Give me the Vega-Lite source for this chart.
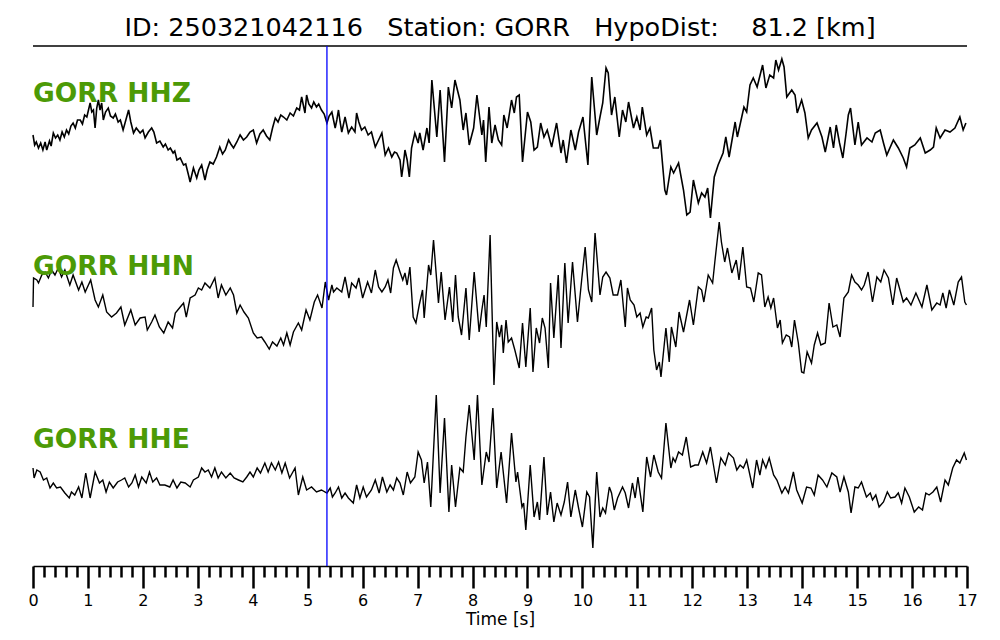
{
  "$schema": "https://vega.github.io/schema/vega-lite/v6.json",
  "autosize": {"type": "none"},
  "width": 934,
  "height": 520,
  "padding": {"left": 33, "top": 46, "right": 33, "bottom": 74},
  "config": {
    "font": "DejaVu Sans",
    "view": {"stroke": null},
    "axis": {"grid": false}
  },
  "title": {
    "text": "ID: 250321042116 \u00a0 Station: GORR \u00a0 HypoDist: \u00a0\u00a0 81.2 [km]",
    "font": "DejaVu Sans",
    "fontSize": 25.5,
    "fontWeight": "normal",
    "color": "black",
    "anchor": "middle",
    "baseline": "alphabetic",
    "offset": -16
  },
  "datasets": {
    "hhz": [
      {"t":0,"amp":5},{"t":0.03,"amp":-5},{"t":0.06,"amp":-2},{"t":0.1,"amp":-8},{"t":0.14,"amp":-3},{"t":0.18,"amp":-10},{"t":0.22,"amp":-2},{"t":0.25,"amp":-10},{"t":0.3,"amp":-1},{"t":0.33,"amp":-6},{"t":0.37,"amp":7},{"t":0.41,"amp":2},{"t":0.45,"amp":5},{"t":0.49,"amp":0},{"t":0.53,"amp":8},{"t":0.57,"amp":3},{"t":0.61,"amp":10},{"t":0.65,"amp":6},{"t":0.69,"amp":14},{"t":0.73,"amp":17},{"t":0.77,"amp":12},{"t":0.81,"amp":20},{"t":0.86,"amp":20},{"t":0.9,"amp":16},{"t":0.94,"amp":25},{"t":0.98,"amp":23},{"t":1.01,"amp":30},{"t":1.04,"amp":37},{"t":1.07,"amp":28},{"t":1.1,"amp":30},{"t":1.13,"amp":12},{"t":1.16,"amp":32},{"t":1.19,"amp":40},{"t":1.22,"amp":30},{"t":1.25,"amp":37},{"t":1.28,"amp":20},{"t":1.32,"amp":28},{"t":1.37,"amp":32},{"t":1.41,"amp":24},{"t":1.46,"amp":22},{"t":1.5,"amp":26},{"t":1.55,"amp":18},{"t":1.59,"amp":20},{"t":1.64,"amp":10},{"t":1.69,"amp":20},{"t":1.74,"amp":30},{"t":1.78,"amp":18},{"t":1.83,"amp":7},{"t":1.88,"amp":12},{"t":1.95,"amp":7},{"t":2.0,"amp":10},{"t":2.04,"amp":2},{"t":2.1,"amp":8},{"t":2.16,"amp":12},{"t":2.2,"amp":8},{"t":2.25,"amp":-3},{"t":2.31,"amp":-1},{"t":2.37,"amp":-7},{"t":2.41,"amp":-4},{"t":2.46,"amp":-10},{"t":2.5,"amp":-8},{"t":2.55,"amp":-13},{"t":2.58,"amp":-11},{"t":2.62,"amp":-20},{"t":2.68,"amp":-18},{"t":2.74,"amp":-25},{"t":2.78,"amp":-24},{"t":2.83,"amp":-35},{"t":2.86,"amp":-42},{"t":2.92,"amp":-28},{"t":2.98,"amp":-38},{"t":3.02,"amp":-30},{"t":3.07,"amp":-25},{"t":3.13,"amp":-40},{"t":3.17,"amp":-30},{"t":3.22,"amp":-22},{"t":3.28,"amp":-24},{"t":3.34,"amp":-17},{"t":3.37,"amp":-12},{"t":3.4,"amp":-7},{"t":3.45,"amp":-14},{"t":3.5,"amp":-10},{"t":3.56,"amp":0},{"t":3.6,"amp":-4},{"t":3.65,"amp":-8},{"t":3.71,"amp":-2},{"t":3.77,"amp":5},{"t":3.83,"amp":0},{"t":3.89,"amp":3},{"t":3.95,"amp":8},{"t":4.01,"amp":10},{"t":4.07,"amp":-3},{"t":4.13,"amp":6},{"t":4.19,"amp":10},{"t":4.25,"amp":4},{"t":4.31,"amp":0},{"t":4.36,"amp":12},{"t":4.41,"amp":22},{"t":4.46,"amp":18},{"t":4.51,"amp":25},{"t":4.56,"amp":23},{"t":4.62,"amp":20},{"t":4.68,"amp":27},{"t":4.74,"amp":24},{"t":4.8,"amp":32},{"t":4.85,"amp":30},{"t":4.89,"amp":43},{"t":4.95,"amp":27},{"t":4.98,"amp":45},{"t":5.02,"amp":36},{"t":5.07,"amp":32},{"t":5.11,"amp":38},{"t":5.16,"amp":33},{"t":5.2,"amp":36},{"t":5.25,"amp":30},{"t":5.3,"amp":26},{"t":5.35,"amp":17},{"t":5.39,"amp":24},{"t":5.44,"amp":28},{"t":5.5,"amp":12},{"t":5.53,"amp":20},{"t":5.56,"amp":30},{"t":5.59,"amp":18},{"t":5.62,"amp":8},{"t":5.68,"amp":23},{"t":5.74,"amp":7},{"t":5.8,"amp":13},{"t":5.86,"amp":8},{"t":5.89,"amp":27},{"t":5.93,"amp":18},{"t":5.98,"amp":10},{"t":6.04,"amp":13},{"t":6.1,"amp":5},{"t":6.16,"amp":8},{"t":6.23,"amp":-7},{"t":6.29,"amp":0},{"t":6.35,"amp":7},{"t":6.41,"amp":-15},{"t":6.47,"amp":-8},{"t":6.53,"amp":-17},{"t":6.58,"amp":-12},{"t":6.62,"amp":-13},{"t":6.68,"amp":-20},{"t":6.71,"amp":-37},{"t":6.74,"amp":-25},{"t":6.77,"amp":-10},{"t":6.81,"amp":-20},{"t":6.85,"amp":-37},{"t":6.89,"amp":-8},{"t":6.95,"amp":7},{"t":7.01,"amp":-3},{"t":7.04,"amp":7},{"t":7.1,"amp":-10},{"t":7.17,"amp":12},{"t":7.21,"amp":-3},{"t":7.26,"amp":60},{"t":7.35,"amp":3},{"t":7.41,"amp":50},{"t":7.49,"amp":-22},{"t":7.56,"amp":53},{"t":7.62,"amp":32},{"t":7.68,"amp":60},{"t":7.77,"amp":40},{"t":7.83,"amp":10},{"t":7.88,"amp":27},{"t":7.94,"amp":-5},{"t":8.02,"amp":12},{"t":8.08,"amp":45},{"t":8.17,"amp":5},{"t":8.2,"amp":20},{"t":8.24,"amp":-22},{"t":8.3,"amp":33},{"t":8.35,"amp":-3},{"t":8.41,"amp":15},{"t":8.47,"amp":0},{"t":8.53,"amp":-5},{"t":8.57,"amp":25},{"t":8.63,"amp":12},{"t":8.71,"amp":40},{"t":8.76,"amp":27},{"t":8.8,"amp":43},{"t":8.85,"amp":45},{"t":8.91,"amp":-22},{"t":9.0,"amp":28},{"t":9.06,"amp":18},{"t":9.12,"amp":-10},{"t":9.18,"amp":-7},{"t":9.24,"amp":17},{"t":9.3,"amp":3},{"t":9.36,"amp":10},{"t":9.44,"amp":-7},{"t":9.53,"amp":17},{"t":9.61,"amp":-13},{"t":9.65,"amp":0},{"t":9.71,"amp":-23},{"t":9.79,"amp":10},{"t":9.87,"amp":-10},{"t":9.93,"amp":8},{"t":10.01,"amp":23},{"t":10.1,"amp":-25},{"t":10.17,"amp":63},{"t":10.26,"amp":5},{"t":10.32,"amp":23},{"t":10.37,"amp":37},{"t":10.43,"amp":72},{"t":10.47,"amp":67},{"t":10.53,"amp":25},{"t":10.59,"amp":43},{"t":10.67,"amp":3},{"t":10.73,"amp":30},{"t":10.79,"amp":18},{"t":10.84,"amp":38},{"t":10.93,"amp":12},{"t":10.99,"amp":23},{"t":11.05,"amp":10},{"t":11.09,"amp":33},{"t":11.17,"amp":5},{"t":11.23,"amp":12},{"t":11.29,"amp":-8},{"t":11.38,"amp":-8},{"t":11.42,"amp":0},{"t":11.5,"amp":-50},{"t":11.53,"amp":-55},{"t":11.61,"amp":-27},{"t":11.66,"amp":-33},{"t":11.75,"amp":-23},{"t":11.84,"amp":-50},{"t":11.9,"amp":-75},{"t":11.96,"amp":-72},{"t":12.02,"amp":-40},{"t":12.11,"amp":-63},{"t":12.17,"amp":-53},{"t":12.23,"amp":-57},{"t":12.28,"amp":-48},{"t":12.33,"amp":-78},{"t":12.4,"amp":-37},{"t":12.47,"amp":-25},{"t":12.56,"amp":-13},{"t":12.61,"amp":3},{"t":12.67,"amp":-17},{"t":12.78,"amp":18},{"t":12.82,"amp":3},{"t":12.9,"amp":23},{"t":12.94,"amp":33},{"t":12.99,"amp":28},{"t":13.05,"amp":55},{"t":13.11,"amp":62},{"t":13.18,"amp":53},{"t":13.28,"amp":75},{"t":13.34,"amp":52},{"t":13.41,"amp":65},{"t":13.48,"amp":62},{"t":13.52,"amp":80},{"t":13.57,"amp":70},{"t":13.63,"amp":81},{"t":13.67,"amp":73},{"t":13.72,"amp":43},{"t":13.81,"amp":50},{"t":13.87,"amp":45},{"t":13.91,"amp":27},{"t":13.99,"amp":40},{"t":14.05,"amp":27},{"t":14.11,"amp":2},{"t":14.17,"amp":10},{"t":14.27,"amp":17},{"t":14.36,"amp":3},{"t":14.42,"amp":-12},{"t":14.51,"amp":13},{"t":14.57,"amp":-8},{"t":14.62,"amp":15},{"t":14.68,"amp":-3},{"t":14.74,"amp":-18},{"t":14.8,"amp":7},{"t":14.84,"amp":25},{"t":14.88,"amp":32},{"t":14.96,"amp":-5},{"t":15.02,"amp":18},{"t":15.08,"amp":-5},{"t":15.18,"amp":2},{"t":15.27,"amp":-2},{"t":15.33,"amp":7},{"t":15.42,"amp":10},{"t":15.48,"amp":-3},{"t":15.54,"amp":-15},{"t":15.66,"amp":0},{"t":15.75,"amp":-8},{"t":15.84,"amp":-18},{"t":15.9,"amp":-27},{"t":15.96,"amp":-8},{"t":16.05,"amp":-5},{"t":16.15,"amp":2},{"t":16.24,"amp":-13},{"t":16.33,"amp":-10},{"t":16.39,"amp":-7},{"t":16.44,"amp":12},{"t":16.51,"amp":2},{"t":16.6,"amp":10},{"t":16.69,"amp":8},{"t":16.78,"amp":12},{"t":16.87,"amp":23},{"t":16.93,"amp":10},{"t":16.98,"amp":17}
    ],
    "hhn": [
      {"t":0,"amp":-7},{"t":0.01,"amp":22},{"t":0.07,"amp":20},{"t":0.1,"amp":17},{"t":0.16,"amp":25},{"t":0.22,"amp":28},{"t":0.28,"amp":22},{"t":0.34,"amp":30},{"t":0.4,"amp":25},{"t":0.46,"amp":32},{"t":0.52,"amp":23},{"t":0.58,"amp":30},{"t":0.67,"amp":15},{"t":0.73,"amp":25},{"t":0.83,"amp":10},{"t":0.89,"amp":18},{"t":0.95,"amp":8},{"t":1.05,"amp":20},{"t":1.13,"amp":0},{"t":1.19,"amp":-7},{"t":1.27,"amp":5},{"t":1.34,"amp":-12},{"t":1.43,"amp":-17},{"t":1.52,"amp":-13},{"t":1.6,"amp":-7},{"t":1.67,"amp":-25},{"t":1.78,"amp":-10},{"t":1.86,"amp":-25},{"t":1.95,"amp":-18},{"t":2.04,"amp":-17},{"t":2.08,"amp":-30},{"t":2.16,"amp":-22},{"t":2.22,"amp":-15},{"t":2.3,"amp":-27},{"t":2.38,"amp":-33},{"t":2.46,"amp":-22},{"t":2.54,"amp":-28},{"t":2.59,"amp":-13},{"t":2.68,"amp":-7},{"t":2.74,"amp":-3},{"t":2.79,"amp":-17},{"t":2.86,"amp":2},{"t":2.95,"amp":5},{"t":3.01,"amp":12},{"t":3.07,"amp":10},{"t":3.13,"amp":17},{"t":3.22,"amp":12},{"t":3.31,"amp":22},{"t":3.37,"amp":2},{"t":3.43,"amp":15},{"t":3.51,"amp":5},{"t":3.59,"amp":12},{"t":3.65,"amp":5},{"t":3.71,"amp":-13},{"t":3.77,"amp":-5},{"t":3.84,"amp":-12},{"t":3.92,"amp":-18},{"t":4.01,"amp":-33},{"t":4.08,"amp":-38},{"t":4.16,"amp":-37},{"t":4.22,"amp":-42},{"t":4.3,"amp":-49},{"t":4.36,"amp":-42},{"t":4.44,"amp":-46},{"t":4.51,"amp":-38},{"t":4.56,"amp":-45},{"t":4.62,"amp":-33},{"t":4.68,"amp":-45},{"t":4.74,"amp":-32},{"t":4.83,"amp":-23},{"t":4.89,"amp":-30},{"t":4.97,"amp":-10},{"t":5.04,"amp":-20},{"t":5.12,"amp":-2},{"t":5.18,"amp":5},{"t":5.26,"amp":-8},{"t":5.32,"amp":18},{"t":5.38,"amp":0},{"t":5.44,"amp":15},{"t":5.47,"amp":8},{"t":5.53,"amp":12},{"t":5.62,"amp":8},{"t":5.68,"amp":23},{"t":5.75,"amp":2},{"t":5.8,"amp":17},{"t":5.88,"amp":12},{"t":5.93,"amp":22},{"t":6.0,"amp":2},{"t":6.09,"amp":18},{"t":6.16,"amp":7},{"t":6.23,"amp":30},{"t":6.29,"amp":13},{"t":6.35,"amp":8},{"t":6.41,"amp":13},{"t":6.46,"amp":20},{"t":6.51,"amp":7},{"t":6.56,"amp":32},{"t":6.61,"amp":40},{"t":6.68,"amp":28},{"t":6.73,"amp":20},{"t":6.77,"amp":27},{"t":6.81,"amp":15},{"t":6.86,"amp":33},{"t":6.92,"amp":-17},{"t":6.97,"amp":-23},{"t":7.03,"amp":-5},{"t":7.09,"amp":10},{"t":7.12,"amp":-18},{"t":7.2,"amp":35},{"t":7.24,"amp":25},{"t":7.29,"amp":60},{"t":7.38,"amp":-3},{"t":7.43,"amp":28},{"t":7.5,"amp":-20},{"t":7.58,"amp":13},{"t":7.64,"amp":-22},{"t":7.69,"amp":25},{"t":7.74,"amp":-17},{"t":7.8,"amp":-35},{"t":7.88,"amp":12},{"t":7.94,"amp":-40},{"t":8.03,"amp":28},{"t":8.12,"amp":-32},{"t":8.17,"amp":-10},{"t":8.21,"amp":5},{"t":8.25,"amp":-27},{"t":8.32,"amp":65},{"t":8.39,"amp":-85},{"t":8.44,"amp":-22},{"t":8.49,"amp":-37},{"t":8.53,"amp":-25},{"t":8.56,"amp":-53},{"t":8.61,"amp":-20},{"t":8.65,"amp":-42},{"t":8.71,"amp":-38},{"t":8.77,"amp":-50},{"t":8.85,"amp":-68},{"t":8.91,"amp":-23},{"t":8.97,"amp":-67},{"t":9.05,"amp":-8},{"t":9.1,"amp":-72},{"t":9.16,"amp":-28},{"t":9.22,"amp":-43},{"t":9.27,"amp":-18},{"t":9.32,"amp":-28},{"t":9.38,"amp":-68},{"t":9.42,"amp":17},{"t":9.48,"amp":-38},{"t":9.56,"amp":25},{"t":9.61,"amp":-48},{"t":9.68,"amp":37},{"t":9.74,"amp":-23},{"t":9.82,"amp":38},{"t":9.91,"amp":-22},{"t":9.99,"amp":22},{"t":10.05,"amp":53},{"t":10.11,"amp":10},{"t":10.17,"amp":-2},{"t":10.23,"amp":67},{"t":10.32,"amp":5},{"t":10.37,"amp":23},{"t":10.43,"amp":28},{"t":10.5,"amp":22},{"t":10.56,"amp":5},{"t":10.64,"amp":5},{"t":10.7,"amp":20},{"t":10.78,"amp":-27},{"t":10.82,"amp":12},{"t":10.87,"amp":0},{"t":10.94,"amp":-5},{"t":10.99,"amp":-17},{"t":11.05,"amp":-13},{"t":11.1,"amp":-27},{"t":11.16,"amp":-17},{"t":11.2,"amp":-18},{"t":11.26,"amp":-8},{"t":11.3,"amp":-50},{"t":11.35,"amp":-70},{"t":11.4,"amp":-62},{"t":11.43,"amp":-77},{"t":11.52,"amp":-28},{"t":11.58,"amp":-62},{"t":11.62,"amp":-27},{"t":11.7,"amp":-47},{"t":11.76,"amp":-12},{"t":11.84,"amp":-32},{"t":11.95,"amp":0},{"t":12.02,"amp":-25},{"t":12.11,"amp":13},{"t":12.17,"amp":10},{"t":12.21,"amp":-2},{"t":12.29,"amp":25},{"t":12.37,"amp":17},{"t":12.41,"amp":38},{"t":12.49,"amp":78},{"t":12.53,"amp":58},{"t":12.59,"amp":38},{"t":12.64,"amp":52},{"t":12.72,"amp":27},{"t":12.8,"amp":40},{"t":12.85,"amp":20},{"t":12.92,"amp":53},{"t":12.99,"amp":13},{"t":13.06,"amp":12},{"t":13.12,"amp":-2},{"t":13.2,"amp":27},{"t":13.26,"amp":25},{"t":13.32,"amp":-7},{"t":13.38,"amp":3},{"t":13.43,"amp":-8},{"t":13.48,"amp":2},{"t":13.55,"amp":-28},{"t":13.6,"amp":-20},{"t":13.64,"amp":-43},{"t":13.71,"amp":-35},{"t":13.77,"amp":-37},{"t":13.81,"amp":-47},{"t":13.86,"amp":-20},{"t":13.93,"amp":-43},{"t":13.99,"amp":-72},{"t":14.03,"amp":-73},{"t":14.09,"amp":-52},{"t":14.17,"amp":-63},{"t":14.22,"amp":-45},{"t":14.28,"amp":-33},{"t":14.34,"amp":-45},{"t":14.42,"amp":-43},{"t":14.49,"amp":-3},{"t":14.56,"amp":-27},{"t":14.63,"amp":-25},{"t":14.69,"amp":-37},{"t":14.76,"amp":2},{"t":14.84,"amp":8},{"t":14.9,"amp":25},{"t":14.96,"amp":18},{"t":15.02,"amp":15},{"t":15.08,"amp":10},{"t":15.13,"amp":15},{"t":15.2,"amp":28},{"t":15.28,"amp":-2},{"t":15.36,"amp":23},{"t":15.43,"amp":18},{"t":15.49,"amp":30},{"t":15.57,"amp":22},{"t":15.65,"amp":-5},{"t":15.72,"amp":22},{"t":15.79,"amp":8},{"t":15.84,"amp":-2},{"t":15.9,"amp":2},{"t":15.98,"amp":-5},{"t":16.07,"amp":7},{"t":16.18,"amp":-7},{"t":16.27,"amp":15},{"t":16.36,"amp":-10},{"t":16.45,"amp":-3},{"t":16.51,"amp":-5},{"t":16.56,"amp":7},{"t":16.62,"amp":-8},{"t":16.68,"amp":10},{"t":16.76,"amp":-5},{"t":16.84,"amp":18},{"t":16.9,"amp":23},{"t":16.96,"amp":-2},{"t":16.99,"amp":-5}
    ],
    "hhe": [
      {"t":0,"amp":12},{"t":0.02,"amp":2},{"t":0.07,"amp":10},{"t":0.13,"amp":8},{"t":0.19,"amp":0},{"t":0.25,"amp":2},{"t":0.31,"amp":-8},{"t":0.37,"amp":-3},{"t":0.43,"amp":-8},{"t":0.5,"amp":-7},{"t":0.58,"amp":-13},{"t":0.66,"amp":-18},{"t":0.7,"amp":-12},{"t":0.76,"amp":-15},{"t":0.83,"amp":-7},{"t":0.89,"amp":-18},{"t":0.96,"amp":7},{"t":1.04,"amp":-18},{"t":1.13,"amp":8},{"t":1.21,"amp":-3},{"t":1.27,"amp":0},{"t":1.33,"amp":-12},{"t":1.39,"amp":-2},{"t":1.46,"amp":-8},{"t":1.54,"amp":-2},{"t":1.61,"amp":0},{"t":1.67,"amp":2},{"t":1.74,"amp":-7},{"t":1.8,"amp":-3},{"t":1.86,"amp":5},{"t":1.92,"amp":-7},{"t":1.98,"amp":3},{"t":2.06,"amp":-3},{"t":2.12,"amp":8},{"t":2.18,"amp":-2},{"t":2.25,"amp":2},{"t":2.31,"amp":-5},{"t":2.4,"amp":-5},{"t":2.49,"amp":-7},{"t":2.55,"amp":0},{"t":2.62,"amp":-8},{"t":2.69,"amp":-2},{"t":2.77,"amp":-3},{"t":2.86,"amp":-7},{"t":2.92,"amp":0},{"t":3.01,"amp":3},{"t":3.07,"amp":12},{"t":3.13,"amp":8},{"t":3.19,"amp":10},{"t":3.25,"amp":3},{"t":3.31,"amp":12},{"t":3.37,"amp":2},{"t":3.43,"amp":8},{"t":3.51,"amp":2},{"t":3.59,"amp":7},{"t":3.66,"amp":2},{"t":3.74,"amp":0},{"t":3.82,"amp":-2},{"t":3.89,"amp":3},{"t":3.95,"amp":8},{"t":4.01,"amp":3},{"t":4.08,"amp":12},{"t":4.14,"amp":7},{"t":4.22,"amp":17},{"t":4.28,"amp":8},{"t":4.34,"amp":17},{"t":4.41,"amp":10},{"t":4.47,"amp":18},{"t":4.53,"amp":7},{"t":4.59,"amp":17},{"t":4.67,"amp":2},{"t":4.77,"amp":12},{"t":4.83,"amp":-15},{"t":4.91,"amp":3},{"t":4.98,"amp":-10},{"t":5.07,"amp":-7},{"t":5.16,"amp":-12},{"t":5.25,"amp":-10},{"t":5.35,"amp":-13},{"t":5.41,"amp":-8},{"t":5.45,"amp":-17},{"t":5.5,"amp":-13},{"t":5.56,"amp":-7},{"t":5.62,"amp":-18},{"t":5.68,"amp":-13},{"t":5.74,"amp":-18},{"t":5.83,"amp":-23},{"t":5.89,"amp":-5},{"t":5.95,"amp":-18},{"t":6.01,"amp":-7},{"t":6.07,"amp":-17},{"t":6.16,"amp":-10},{"t":6.23,"amp":0},{"t":6.3,"amp":-13},{"t":6.36,"amp":3},{"t":6.44,"amp":-12},{"t":6.5,"amp":-5},{"t":6.56,"amp":-10},{"t":6.62,"amp":2},{"t":6.68,"amp":-3},{"t":6.74,"amp":-15},{"t":6.81,"amp":8},{"t":6.87,"amp":-3},{"t":6.95,"amp":3},{"t":7.01,"amp":28},{"t":7.07,"amp":20},{"t":7.12,"amp":-3},{"t":7.18,"amp":18},{"t":7.24,"amp":-27},{"t":7.34,"amp":85},{"t":7.41,"amp":-13},{"t":7.49,"amp":62},{"t":7.57,"amp":-32},{"t":7.62,"amp":15},{"t":7.69,"amp":-27},{"t":7.77,"amp":12},{"t":7.83,"amp":8},{"t":7.88,"amp":43},{"t":7.94,"amp":75},{"t":8.03,"amp":20},{"t":8.09,"amp":85},{"t":8.17,"amp":-5},{"t":8.25,"amp":28},{"t":8.3,"amp":18},{"t":8.37,"amp":72},{"t":8.44,"amp":-8},{"t":8.52,"amp":28},{"t":8.62,"amp":-23},{"t":8.71,"amp":47},{"t":8.79,"amp":-2},{"t":8.82,"amp":8},{"t":8.9,"amp":-27},{"t":8.93,"amp":-23},{"t":8.97,"amp":-50},{"t":9.05,"amp":15},{"t":9.12,"amp":-37},{"t":9.18,"amp":-22},{"t":9.22,"amp":-40},{"t":9.3,"amp":23},{"t":9.36,"amp":-35},{"t":9.42,"amp":-12},{"t":9.48,"amp":-42},{"t":9.54,"amp":-23},{"t":9.61,"amp":-35},{"t":9.67,"amp":-22},{"t":9.73,"amp":-2},{"t":9.79,"amp":-37},{"t":9.87,"amp":-10},{"t":9.93,"amp":-28},{"t":10.0,"amp":-47},{"t":10.08,"amp":-12},{"t":10.13,"amp":-17},{"t":10.19,"amp":-68},{"t":10.26,"amp":8},{"t":10.32,"amp":-37},{"t":10.37,"amp":-28},{"t":10.42,"amp":-33},{"t":10.49,"amp":-7},{"t":10.53,"amp":-13},{"t":10.58,"amp":-30},{"t":10.64,"amp":-18},{"t":10.73,"amp":-7},{"t":10.78,"amp":-13},{"t":10.84,"amp":-28},{"t":10.91,"amp":-3},{"t":10.96,"amp":-18},{"t":11.01,"amp":3},{"t":11.1,"amp":-32},{"t":11.17,"amp":23},{"t":11.24,"amp":3},{"t":11.3,"amp":25},{"t":11.38,"amp":8},{"t":11.44,"amp":2},{"t":11.52,"amp":57},{"t":11.61,"amp":12},{"t":11.65,"amp":22},{"t":11.69,"amp":18},{"t":11.75,"amp":28},{"t":11.82,"amp":25},{"t":11.89,"amp":43},{"t":11.97,"amp":13},{"t":12.05,"amp":15},{"t":12.11,"amp":15},{"t":12.19,"amp":28},{"t":12.26,"amp":17},{"t":12.33,"amp":33},{"t":12.44,"amp":-3},{"t":12.52,"amp":22},{"t":12.6,"amp":15},{"t":12.66,"amp":27},{"t":12.75,"amp":22},{"t":12.81,"amp":10},{"t":12.87,"amp":15},{"t":12.93,"amp":12},{"t":12.99,"amp":20},{"t":13.1,"amp":-8},{"t":13.17,"amp":20},{"t":13.23,"amp":5},{"t":13.28,"amp":20},{"t":13.34,"amp":12},{"t":13.4,"amp":22},{"t":13.48,"amp":5},{"t":13.54,"amp":0},{"t":13.63,"amp":-13},{"t":13.69,"amp":-7},{"t":13.75,"amp":-13},{"t":13.84,"amp":8},{"t":13.9,"amp":-10},{"t":14.0,"amp":-23},{"t":14.08,"amp":-7},{"t":14.16,"amp":-8},{"t":14.22,"amp":-15},{"t":14.29,"amp":5},{"t":14.37,"amp":0},{"t":14.45,"amp":-7},{"t":14.54,"amp":7},{"t":14.63,"amp":3},{"t":14.69,"amp":-12},{"t":14.76,"amp":3},{"t":14.84,"amp":-12},{"t":14.89,"amp":-33},{"t":14.96,"amp":-7},{"t":15.02,"amp":-8},{"t":15.08,"amp":-2},{"t":15.17,"amp":-17},{"t":15.24,"amp":-13},{"t":15.28,"amp":-20},{"t":15.34,"amp":-15},{"t":15.4,"amp":-27},{"t":15.48,"amp":-22},{"t":15.55,"amp":-12},{"t":15.61,"amp":-18},{"t":15.69,"amp":-17},{"t":15.75,"amp":-13},{"t":15.81,"amp":-23},{"t":15.87,"amp":-8},{"t":15.95,"amp":-17},{"t":16.04,"amp":-32},{"t":16.12,"amp":-27},{"t":16.19,"amp":-30},{"t":16.25,"amp":-13},{"t":16.31,"amp":-15},{"t":16.38,"amp":-12},{"t":16.45,"amp":-7},{"t":16.52,"amp":-22},{"t":16.6,"amp":0},{"t":16.66,"amp":-5},{"t":16.74,"amp":12},{"t":16.81,"amp":20},{"t":16.87,"amp":17},{"t":16.95,"amp":27},{"t":16.99,"amp":20}
    ]
  },
  "layer": [
    {
      "layer": [
        {
          "data": {"name": "hhz"},
          "mark": {"type": "line", "color": "black", "strokeWidth": 1.6},
          "encoding": {
            "x": {"field": "t", "type": "quantitative", "axis": null},
            "y": {"field": "amp", "type": "quantitative", "scale": {"domain": [-426, 94], "nice": false, "zero": false}, "axis": null}
          }
        },
        {
          "data": {"values": [{}]},
          "mark": {"type": "rule", "color": "black", "strokeWidth": 1.5},
          "encoding": {
            "x": {"datum": 0, "type": "quantitative", "axis": null},
            "x2": {"datum": 17},
            "y": {"datum": 94, "type": "quantitative", "scale": {"domain": [-426, 94], "nice": false, "zero": false}, "axis": null}
          }
        },
        {
          "data": {"values": [{"label": "GORR HHZ", "pos": 0, "lev": 38}]},
          "mark": {"type": "text", "align": "left", "baseline": "alphabetic", "font": "DejaVu Sans", "fontWeight": "bold", "fontSize": 26.5, "color": "#4c9a06"},
          "encoding": {
            "x": {"field": "pos", "type": "quantitative", "axis": null},
            "y": {"field": "lev", "type": "quantitative", "scale": {"domain": [-426, 94], "nice": false, "zero": false}, "axis": null},
            "text": {"field": "label"}
          }
        }
      ]
    },
    {
      "layer": [
        {
          "data": {"name": "hhn"},
          "mark": {"type": "line", "color": "black", "strokeWidth": 1.4},
          "encoding": {
            "x": {"field": "t", "type": "quantitative", "axis": null},
            "y": {"field": "amp", "type": "quantitative", "scale": {"domain": [-266, 254], "nice": false, "zero": false}, "axis": null}
          }
        },
        {
          "data": {"values": [{"label": "GORR HHN", "pos": 0, "lev": 25}]},
          "mark": {"type": "text", "align": "left", "baseline": "alphabetic", "font": "DejaVu Sans", "fontWeight": "bold", "fontSize": 26.5, "color": "#4c9a06"},
          "encoding": {
            "x": {"field": "pos", "type": "quantitative", "axis": null},
            "y": {"field": "lev", "type": "quantitative", "scale": {"domain": [-266, 254], "nice": false, "zero": false}, "axis": null},
            "text": {"field": "label"}
          }
        }
      ]
    },
    {
      "layer": [
        {
          "data": {"name": "hhe"},
          "mark": {"type": "line", "color": "black", "strokeWidth": 1.4},
          "encoding": {
            "x": {"field": "t", "type": "quantitative", "axis": null},
            "y": {"field": "amp", "type": "quantitative", "scale": {"domain": [-86, 434], "nice": false, "zero": false}, "axis": null}
          }
        },
        {
          "data": {"values": [{"label": "GORR HHE", "pos": 0, "lev": 32}]},
          "mark": {"type": "text", "align": "left", "baseline": "alphabetic", "font": "DejaVu Sans", "fontWeight": "bold", "fontSize": 26.5, "color": "#4c9a06"},
          "encoding": {
            "x": {"field": "pos", "type": "quantitative", "axis": null},
            "y": {"field": "lev", "type": "quantitative", "scale": {"domain": [-86, 434], "nice": false, "zero": false}, "axis": null},
            "text": {"field": "label"}
          }
        }
      ]
    },
    {
      "data": {"values": [{"pick": 5.35}]},
      "mark": {"type": "rule", "color": "#0000ff", "strokeWidth": 1.3},
      "encoding": {
        "x": {"field": "pick", "type": "quantitative",
              "scale": {"domain": [0, 17], "nice": false, "zero": false},
              "axis": {"orient": "bottom",
                       "values": [0,0.2,0.4,0.6,0.8,1,1.2,1.4,1.6,1.8,2,2.2,2.4,2.6,2.8,3,3.2,3.4,3.6,3.8,4,4.2,4.4,4.6,4.8,5,5.2,5.4,5.6,5.8,6,6.2,6.4,6.6,6.8,7,7.2,7.4,7.6,7.8,8,8.2,8.4,8.6,8.8,9,9.2,9.4,9.6,9.8,10,10.2,10.4,10.6,10.8,11,11.2,11.4,11.6,11.8,12,12.2,12.4,12.6,12.8,13,13.2,13.4,13.6,13.8,14,14.2,14.4,14.6,14.8,15,15.2,15.4,15.6,15.8,16,16.2,16.4,16.6,16.8,17],
                       "tickSize": {"condition": {"test": "abs(datum.value - round(datum.value)) < 0.01", "value": 22}, "value": 11},
                       "labelExpr": "abs(datum.value - round(datum.value)) < 0.01 ? format(datum.value, 'd') : ''",
                       "tickWidth": 2.5, "tickColor": "black", "domain": true, "domainColor": "black", "domainWidth": 1.6,
                       "labelFont": "DejaVu Sans", "labelFontSize": 16, "labelColor": "black", "labelPadding": 4, "labelFlush": false, "labelOverlap": false,
                       "title": "Time [s]", "titleFont": "DejaVu Sans", "titleFontSize": 17, "titleFontWeight": "normal", "titleColor": "black", "titlePadding": 3, "grid": false}}
      }
    }
  ],
  "resolve": {"scale": {"y": "independent"}, "axis": {"x": "independent"}}
}
